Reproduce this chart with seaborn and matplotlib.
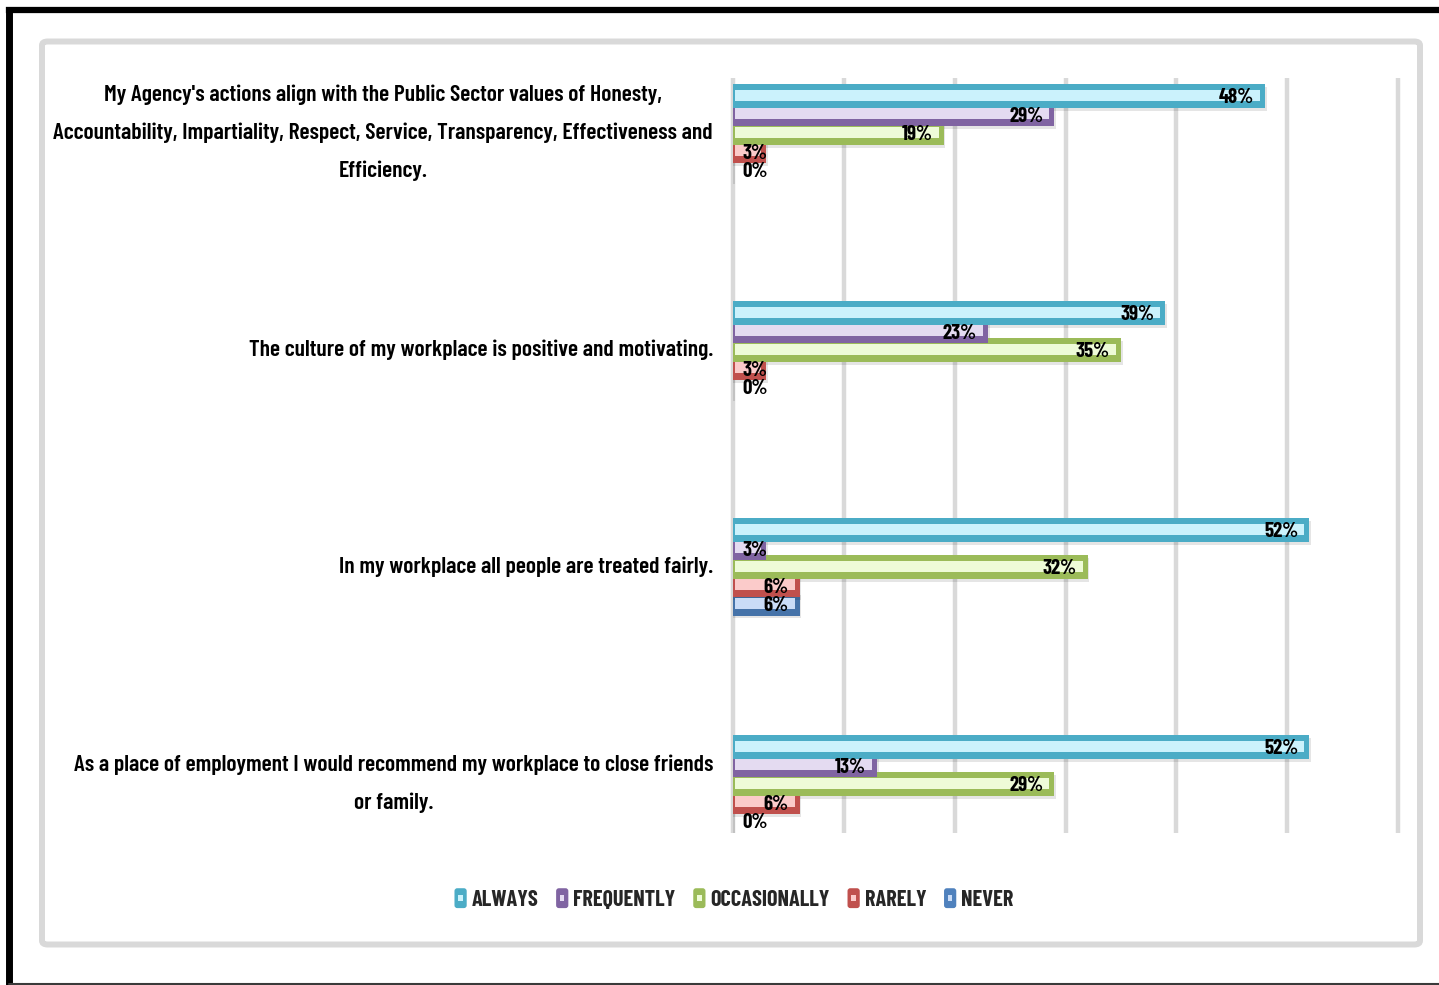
import matplotlib
matplotlib.use("Agg")
import matplotlib.pyplot as plt
import numpy as np
import pandas as pd
import seaborn as sns
from matplotlib.patches import Rectangle, FancyBboxPatch
from matplotlib.lines import Line2D
from matplotlib.legend_handler import HandlerBase

# Survey statements (wrapped the way they are laid out beside the bars)
statements = [
    "My Agency's actions align with the Public Sector values of Honesty,\n"
    "Accountability, Impartiality, Respect, Service, Transparency, Effectiveness and\n"
    "Efficiency.",
    "The culture of my workplace is positive and motivating.",
    "In my workplace all people are treated fairly.",
    "As a place of employment I would recommend my workplace to close friends\n"
    "or family.",
]
responses = ["ALWAYS", "FREQUENTLY", "OCCASIONALLY", "RARELY", "NEVER"]

# Share of respondents (%) per statement
always = [48, 39, 52, 52]
frequently = [29, 23, 3, 13]
occasionally = [19, 35, 32, 29]
rarely = [3, 3, 6, 6]
never = [0, 0, 6, 0]

dark_colors = ["#4BACC6", "#8064A2", "#9BBB59", "#C0504D", "#4F81BD"]
light_colors = ["#CBF2FC", "#E4DBF1", "#EEFBD8", "#FBCBCA", "#CADCF7"]

series = [always, frequently, occasionally, rarely, never]
df = pd.DataFrame({
    "statement": statements * len(responses),
    "response": [r for r in responses for _ in statements],
    "pct": [v for s in series for v in s],
})

W, H = 1439, 985
sns.set_theme(style="white")
plt.rcParams["font.family"] = ["Barlow Condensed", "Fira Sans Extra Condensed", "DejaVu Sans"]

fig = plt.figure(figsize=(W / 100, H / 100), dpi=100)
fig.patch.set_facecolor("white")

# axes placed so 0..60 % spans the plotting area, with a little room for the gridlines
px_per_unit = (1398 - 733) / 60.0
xl0, xl1 = -0.3, 60.3
ax_left = 733 + xl0 * px_per_unit
ax_right = 733 + xl1 * px_per_unit
ax_top, ax_bot = 78, 833
ax = fig.add_axes([ax_left / W, 1 - ax_bot / H, (ax_right - ax_left) / W, (ax_bot - ax_top) / H])

sns.barplot(
    data=df, y="statement", x="pct", hue="response",
    order=statements, hue_order=responses, palette=dark_colors,
    orient="h", width=0.425, dodge=True, saturation=1,
    linewidth=0, legend=False, ax=ax,
)

bar_h = 0.11
band_h = 0.05
for i, (cont, light) in enumerate(zip(ax.containers, light_colors)):
    z = 10 - 2 * i
    for bar in cont:
        v = bar.get_width()
        cy = bar.get_y() + bar.get_height() / 2
        bar.set_y(cy - bar_h / 2)
        bar.set_height(bar_h)
        bar.set_zorder(z)
        # soft shadow below the bar
        ax.add_patch(Rectangle((0, cy - bar_h / 2 + 0.012), v + 0.15, bar_h,
                               facecolor="#000000", alpha=0.10, edgecolor="none", zorder=2))
        # glossy light band inside the bar
        if v > 0:
            ax.add_patch(Rectangle((0.15, cy - band_h / 2 - 0.003), max(v - 0.6, 0), band_h,
                                   facecolor=light, edgecolor="none", zorder=z + 0.5))
        # value label at the inside end of the bar
        ax.text(max(v - 1.0, 3.1), cy + 0.008, f"{v:g}%", ha="right", va="center",
                fontsize=15, fontweight="bold", color="black", zorder=30)

ax.set_xlim(xl0, xl1)
ax.set_ylim(3 + (ax_bot - 784) / 217.0, -(133 - ax_top) / 217.0)
ax.set_xticks(range(0, 61, 10))
ax.set_xticklabels([])
ax.tick_params(axis="x", length=0)
ax.grid(axis="x", color="#D9D9D9", linewidth=3.2)
ax.grid(axis="y", visible=False)
ax.set_axisbelow(True)
for s in ax.spines.values():
    s.set_visible(False)
ax.set_xlabel("")
ax.set_ylabel("")
ax.tick_params(axis="y", length=0, pad=12)
for lab in ax.get_yticklabels():
    lab.set_fontsize(17)
    lab.set_fontweight(600)
    lab.set_multialignment("center")
    lab.set_color("black")
    lab.set_linespacing(2.05)
    lab.set_verticalalignment("center")
ax.patch.set_alpha(0)


class SwatchHandler(HandlerBase):
    def create_artists(self, legend, orig_handle, xdescent, ydescent,
                       width, height, fontsize, trans):
        dark, light = orig_handle
        outer = FancyBboxPatch((-xdescent, -ydescent), width, height,
                               boxstyle="round,pad=0,rounding_size=2",
                               facecolor=dark, edgecolor="none", transform=trans)
        inner = Rectangle((-xdescent + width * 0.32, -ydescent + height * 0.38),
                          width * 0.36, height * 0.3,
                          facecolor=light, edgecolor="none", transform=trans)
        return [outer, inner]


handles = list(zip(dark_colors, light_colors))
fig.legend(handles, responses, handler_map={tuple: SwatchHandler()},
           loc="center", bbox_to_anchor=(734 / W, 1 - 899 / H), ncol=5,
           frameon=False, handlelength=0.55, handleheight=1.0,
           handletextpad=0.22, columnspacing=0.8,
           prop={"size": 16, "weight": "bold"})

# light grey chart frame
fig.patches.append(FancyBboxPatch(
    (42 / W, 1 - 944.5 / H), (1420 - 42) / W, (944.5 - 41.5) / H,
    boxstyle="round,pad=0,rounding_size=0.004", transform=fig.transFigure,
    fill=False, edgecolor="#D9D9D9", linewidth=4.3, zorder=0))

# outer black border
fig.add_artist(Line2D([8.5 / W, 1.01], [1 - 10 / H, 1 - 10 / H], transform=fig.transFigure,
                      color="black", linewidth=4.5, solid_capstyle="projecting"))
fig.add_artist(Line2D([8.5 / W, 8.5 / W], [1 - 10 / H, 1 - 984 / H], transform=fig.transFigure,
                      color="black", linewidth=5, solid_capstyle="projecting"))
fig.add_artist(Line2D([8.5 / W, 1.01], [1 - 984 / H, 1 - 984 / H], transform=fig.transFigure,
                      color="#3A3A3A", linewidth=1.5))

fig.savefig("out.png", dpi=100, facecolor="white")
